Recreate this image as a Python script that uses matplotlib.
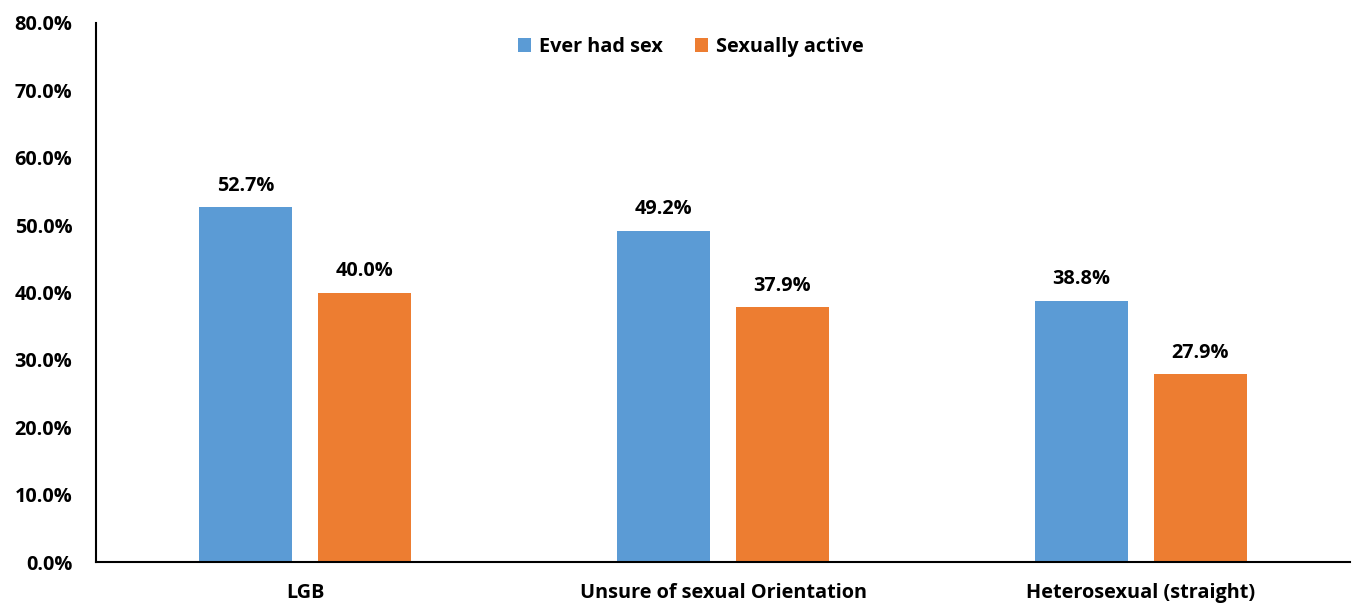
import matplotlib.pyplot as plt
import numpy as np

categories = ["LGB", "Unsure of sexual Orientation", "Heterosexual (straight)"]
ever_had_sex = [52.7, 49.2, 38.8]
sexually_active = [40.0, 37.9, 27.9]
series_names = ["Ever had sex", "Sexually active"]
colors = ["#5B9BD5", "#ED7D31"]

plt.rcParams["font.family"] = ["Open Sans", "DejaVu Sans"]
plt.rcParams["font.weight"] = "bold"
FS = 14.3

fig = plt.figure(figsize=(13.53, 6.06), dpi=100)
ax = fig.add_axes([96 / 1353, 44 / 606, 1254 / 1353, 539 / 606])

x = np.arange(len(categories))
width = 0.223
offset = 0.142

for i, (vals, name, col) in enumerate(zip([ever_had_sex, sexually_active], series_names, colors)):
    pos = x + (offset if i else -offset)
    bars = ax.bar(pos, vals, width, color=col, label=name)
    for b, v in zip(bars, vals):
        ax.annotate(f"{v:.1f}%", (b.get_x() + b.get_width() / 2, v),
                    xytext=(0, 8), textcoords="offset points",
                    ha="center", va="bottom", fontsize=FS, fontweight="bold")

ax.set_xlim(-0.5, 2.5)
ax.set_ylim(0, 80)
ax.set_yticks(np.arange(0, 81, 10))
ax.set_yticklabels([f"{t:.1f}%" for t in np.arange(0, 81, 10)], fontsize=FS, fontweight="bold")
ax.set_xticks(x)
ax.set_xticklabels(categories, fontsize=FS, fontweight="bold")
ax.tick_params(axis="both", length=0)
ax.tick_params(axis="y", pad=17)
ax.tick_params(axis="x", pad=15)

for s in ["top", "right"]:
    ax.spines[s].set_visible(False)
for s in ["left", "bottom"]:
    ax.spines[s].set_linewidth(1.5)

fig.legend(loc="center", bbox_to_anchor=(691 / 1353, 1 - 47 / 606), ncol=2,
           frameon=False, fontsize=FS, handlelength=0.65, handleheight=0.65,
           handletextpad=0.4, columnspacing=1.6)

fig.savefig("out.png", dpi=100)
